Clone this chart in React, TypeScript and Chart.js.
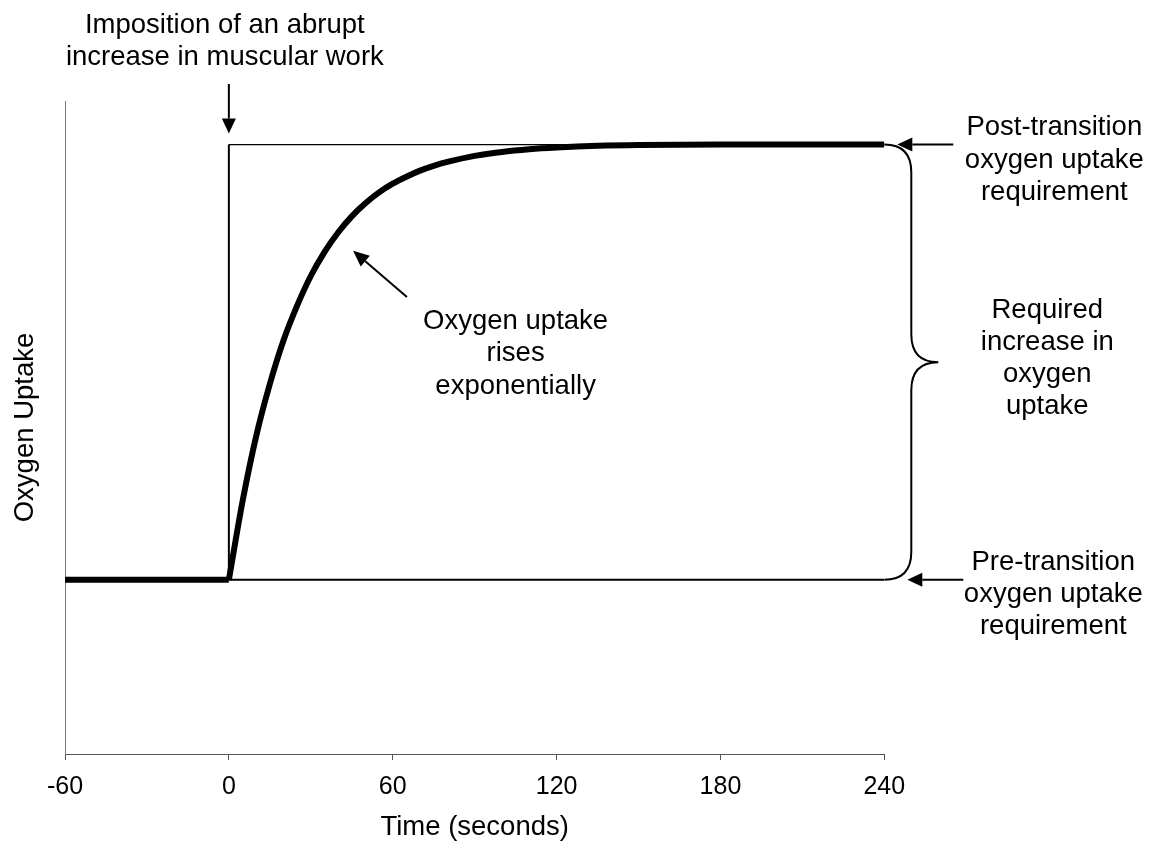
import React, { useEffect, useRef } from "react";
import { Chart, registerables } from "chart.js";

Chart.register(...registerables);

// ---- data ----
const timeTicks = [-60, 0, 60, 120, 180, 240];
const preTime = [-60, 0];
const preUptake = [0.4, 0.4];
const riseTime = [0, 5, 10, 15, 20, 25, 30, 35, 40, 45, 50, 55, 60, 65, 70, 75, 80, 90, 100, 110, 120, 135, 150, 180, 210, 240];
const riseUptake = [0.4, 0.58, 0.73, 0.85, 0.95, 1.03, 1.098, 1.153, 1.198, 1.235, 1.265, 1.29, 1.31, 1.326, 1.34, 1.351, 1.36, 1.374, 1.383, 1.389, 1.393, 1.397, 1.399, 1.4, 1.4, 1.4];
const stepTime = [0, 0];
const stepUptake = [0.4, 1.4];
const boxTime = [0, 240];
const preLevel = [0.4, 0.4];
const postLevel = [1.4, 1.4];

const topLabel = ["Imposition of an abrupt", "increase in muscular work"];
const postLabel = ["Post-transition", "oxygen uptake", "requirement"];
const preLabel = ["Pre-transition", "oxygen uptake", "requirement"];
const requiredLabel = ["Required", "increase in", "oxygen", "uptake"];
const riseLabel = ["Oxygen uptake", "rises", "exponentially"];

const FONT = '"Liberation Sans", Arial, Helvetica, sans-serif';

const zip = (xs: number[], ys: number[]) => xs.map((x, i) => ({ x, y: ys[i] }));

function drawArrow(ctx: CanvasRenderingContext2D, x1: number, y1: number, x2: number, y2: number, len = 15, hw = 7, lw = 2) {
  const a = Math.atan2(y2 - y1, x2 - x1);
  const bx = x2 - Math.cos(a) * len;
  const by = y2 - Math.sin(a) * len;
  ctx.lineWidth = lw;
  ctx.beginPath();
  ctx.moveTo(x1, y1);
  ctx.lineTo(bx, by);
  ctx.stroke();
  ctx.beginPath();
  ctx.moveTo(x2, y2);
  ctx.lineTo(bx + Math.sin(a) * hw, by - Math.cos(a) * hw);
  ctx.lineTo(bx - Math.sin(a) * hw, by + Math.cos(a) * hw);
  ctx.closePath();
  ctx.fill();
}

function drawLines(ctx: CanvasRenderingContext2D, lines: string[], cx: number, ys: number[]) {
  lines.forEach((t, i) => ctx.fillText(t, cx, ys[i]));
}

const annotations = {
  id: "annotations",
  afterDraw(chart: any) {
    const { ctx, chartArea } = chart;
    const xs = chart.scales.x;
    const ys = chart.scales.y;
    const X = (v: number) => xs.getPixelForValue(v);
    const Y = (v: number) => ys.getPixelForValue(v);
    const post = Y(postLevel[0]);
    const pre = Y(preLevel[0]);
    const xEnd = X(boxTime[1]);
    ctx.save();
    ctx.fillStyle = "#000";
    ctx.strokeStyle = "#000";
    ctx.font = `27.5px ${FONT}`;
    ctx.textAlign = "center";
    ctx.textBaseline = "middle";

    // top label + arrow
    drawLines(ctx, topLabel, X(0) - 4, [chartArea.top - 76, chartArea.top - 44]);
    drawArrow(ctx, X(0), chartArea.top - 17, X(0), post - 11, 15, 7, 2);

    // post-transition
    drawArrow(ctx, xEnd + 69, post, xEnd + 13, post, 15, 7, 2);
    drawLines(ctx, postLabel, xEnd + 170, [post - 17, post + 16, post + 48]);

    // pre-transition
    drawArrow(ctx, xEnd + 79, pre, xEnd + 23, pre, 15, 7, 2);
    drawLines(ctx, preLabel, xEnd + 169, [pre - 17, pre + 15, pre + 47]);

    // brace
    const mid = (post + pre) / 2;
    const xv = xEnd + 27;
    const xt = xEnd + 54;
    const r = 28;
    ctx.lineWidth = 2;
    ctx.beginPath();
    ctx.moveTo(xEnd, post);
    ctx.quadraticCurveTo(xv, post, xv, post + r);
    ctx.lineTo(xv, mid - r);
    ctx.quadraticCurveTo(xv, mid, xt, mid);
    ctx.quadraticCurveTo(xv, mid, xv, mid + r);
    ctx.lineTo(xv, pre - r);
    ctx.quadraticCurveTo(xv, pre, xEnd, pre);
    ctx.stroke();

    // required label
    drawLines(ctx, requiredLabel, xEnd + 163, [mid - 52, mid - 20, mid + 12, mid + 44]);

    // rise label + arrow
    const cy = Y(0.92);
    drawLines(ctx, riseLabel, X(105), [cy - 32.5, cy, cy + 32.5]);
    drawArrow(ctx, X(65.2), Y(1.05), X(45.5), Y(1.156), 16, 7, 2);

    ctx.restore();
  },
};

export default function App() {
  const ref = useRef<HTMLCanvasElement | null>(null);
  useEffect(() => {
    if (!ref.current) return;
    Chart.defaults.font.family = FONT;
    Chart.defaults.color = "#000";
    const chart = new Chart(ref.current, {
      type: "line",
      data: {
        datasets: [
          {
            data: zip(riseTime, riseUptake),
            borderColor: "#000",
            borderWidth: 6,
            pointRadius: 0,
            cubicInterpolationMode: "monotone",
            borderCapStyle: "butt",
            borderJoinStyle: "round",
          },
          {
            data: zip(preTime, preUptake),
            borderColor: "#000",
            borderWidth: 6,
            pointRadius: 0,
            borderCapStyle: "butt",
          },
          { data: zip(stepTime, stepUptake), borderColor: "#000", borderWidth: 2, pointRadius: 0 },
          { data: zip(boxTime, postLevel), borderColor: "#000", borderWidth: 1.2, pointRadius: 0 },
          { data: zip(boxTime, preLevel), borderColor: "#000", borderWidth: 2, pointRadius: 0 },
        ],
      },
      options: {
        animation: false,
        responsive: false,
        parsing: false as any,
        layout: { padding: { top: 101, right: 277.7, bottom: 0, left: 0 } },
        plugins: { legend: { display: false }, tooltip: { enabled: false } },
        scales: {
          x: {
            type: "linear",
            min: -60,
            max: 240,
            afterBuildTicks: (s: any) => {
              s.ticks = timeTicks.map((v) => ({ value: v }));
            },
            afterFit: (s: any) => {
              s.height = 87;
            },
            ticks: { font: { size: 25 }, padding: 12, color: "#000", maxRotation: 0 },
            grid: { drawOnChartArea: false, drawTicks: true, tickLength: 6, color: "#555" },
            border: { display: true, color: "#555", width: 1 },
            title: {
              display: true,
              text: "Time (seconds)",
              font: { size: 27.5, lineHeight: 1 },
              padding: 0,
              color: "#000",
            },
          },
          y: {
            type: "linear",
            min: 0,
            max: 1.5,
            afterFit: (s: any) => {
              s.width = 65;
            },
            ticks: { display: false },
            grid: { display: false },
            border: { display: true, color: "#777", width: 1 },
            title: {
              display: true,
              text: "Oxygen Uptake",
              font: { size: 27.5, lineHeight: 1.2 },
              padding: { top: 8.5, bottom: 0 },
              color: "#000",
            },
          },
        },
      },
      plugins: [annotations],
    });
    return () => chart.destroy();
  }, []);
  return (
    <div style={{ position: "absolute", left: 0, top: 0, width: 1162, height: 841, background: "#fff" }}>
      <canvas ref={ref} width={1162} height={841} style={{ display: "block" }} />
    </div>
  );
}
